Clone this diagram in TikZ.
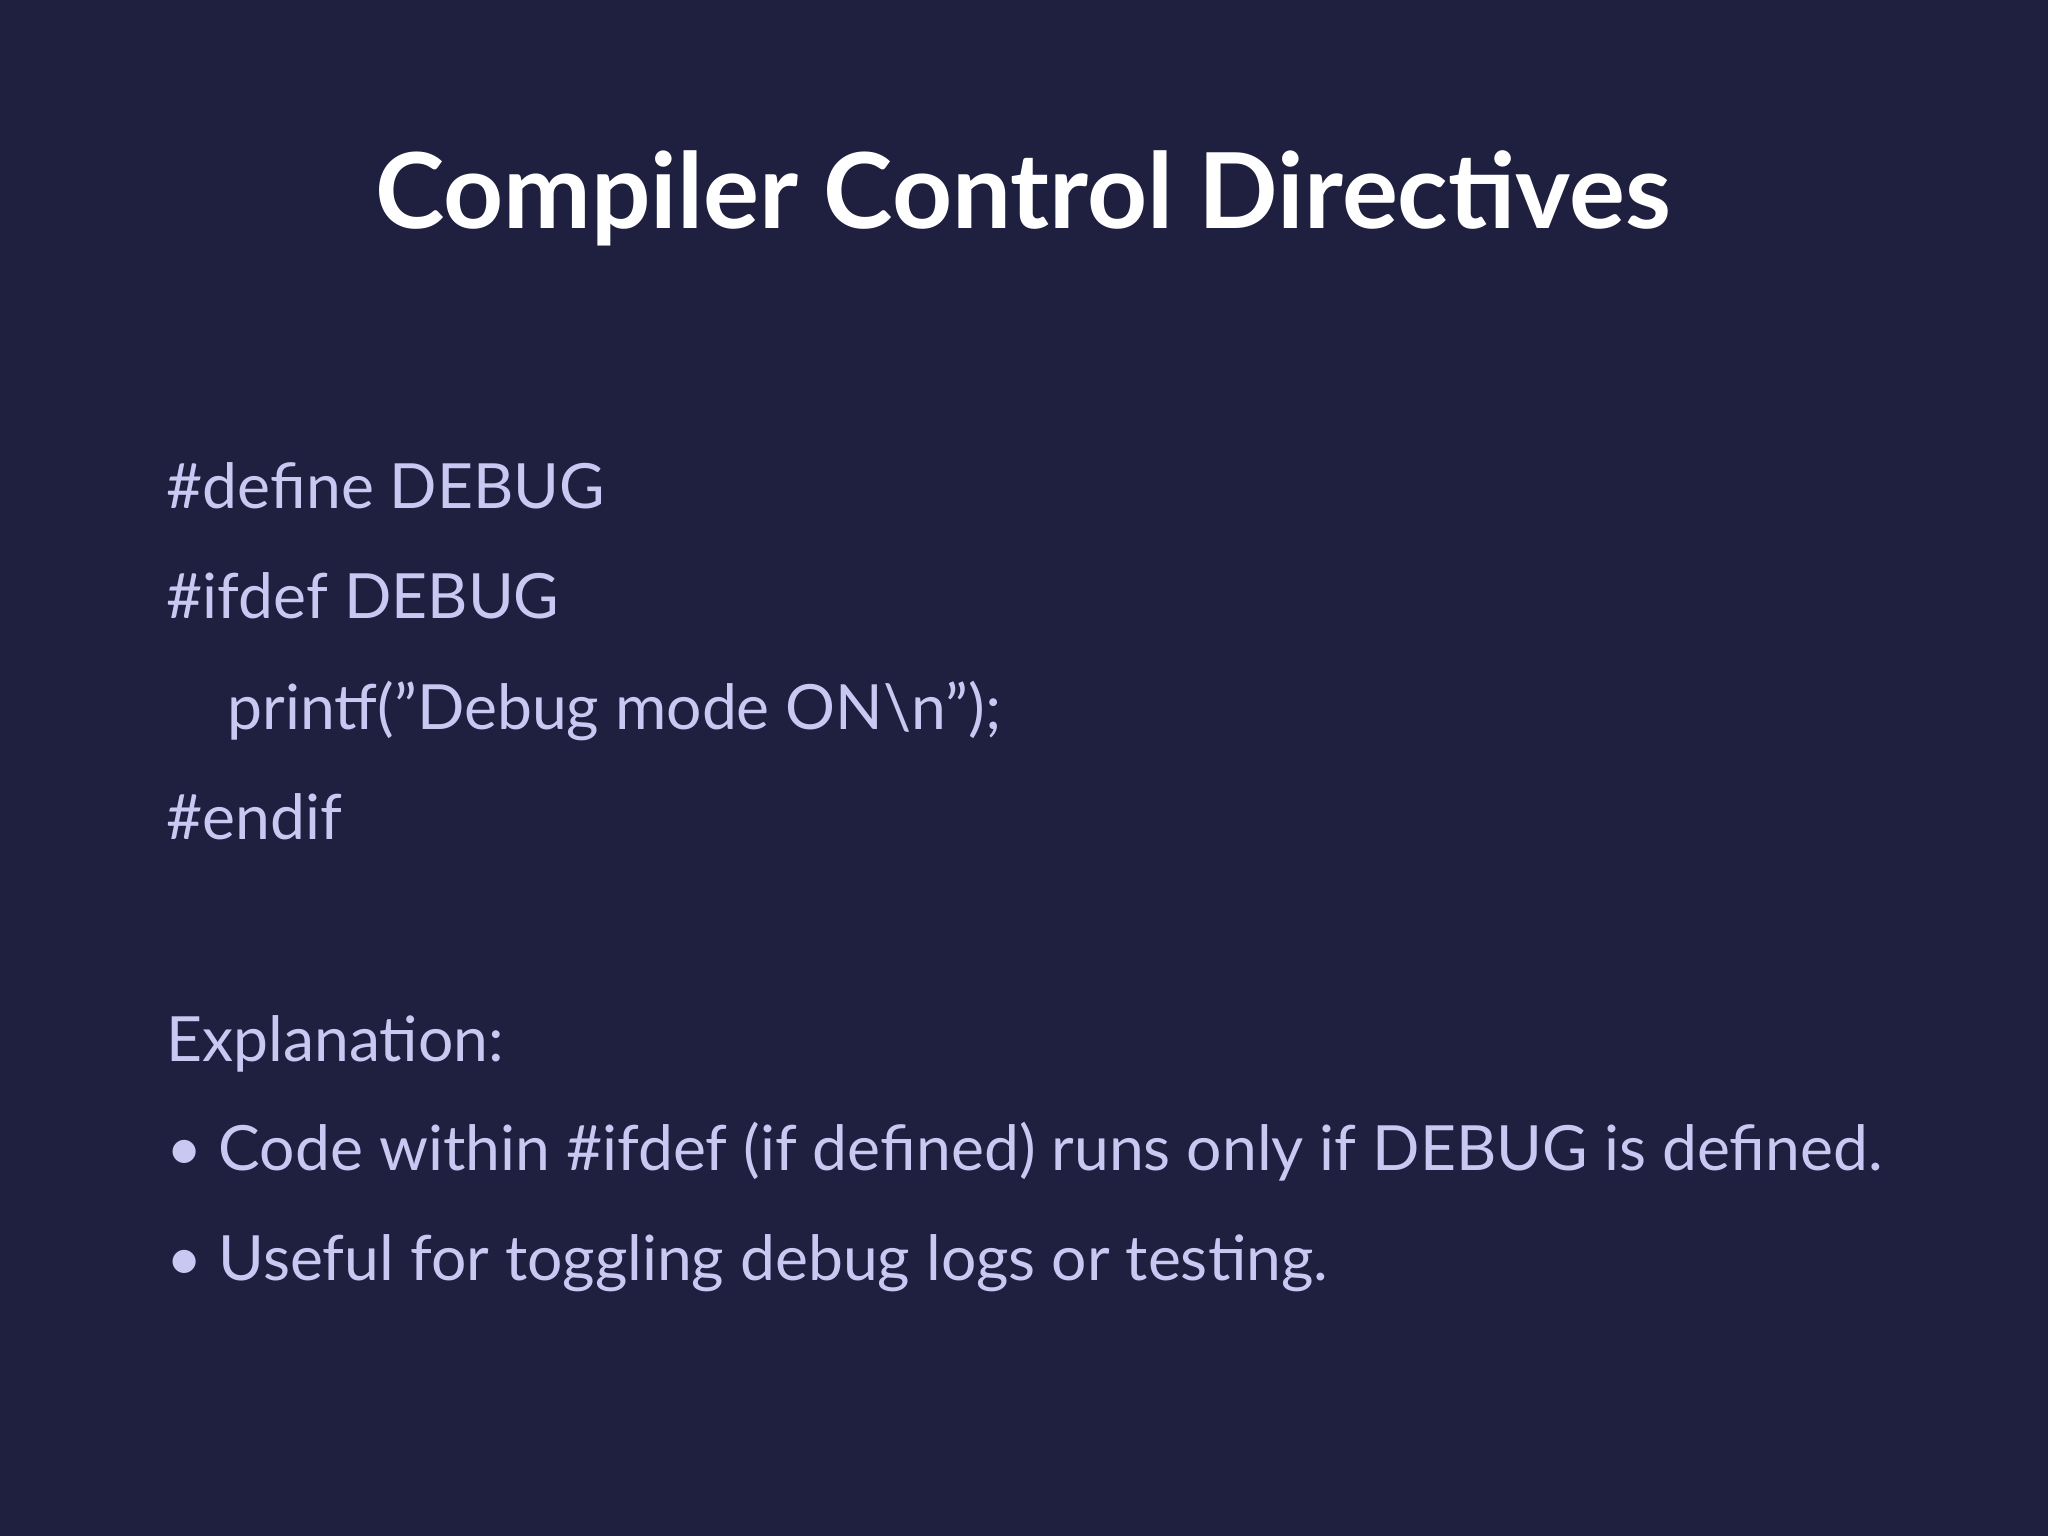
\documentclass[tikz,border=0pt]{standalone}
\usepackage{fontspec}
\setmainfont{Lato}
\definecolor{bg}{HTML}{1F1F3F}
\definecolor{txt}{HTML}{C8C8F2}
\begin{document}
\begin{tikzpicture}[x=1cm,y=1cm,
  body/.style={anchor=base west,inner sep=0pt,text=txt,font=\fontsize{17.75pt}{21pt}\selectfont}]
\fill[bg] (0,0) rectangle (20.48,15.36);
\useasboundingbox (0,0) rectangle (20.48,15.36);
\node[anchor=base,inner sep=0pt,text=white,font=\fontsize{29.8pt}{36pt}\selectfont\bfseries] (title) at (10.23,13.07) {Compiler Control Directives};
\node[body] (l1) at (1.66,10.27) {\#define DEBUG};
\node[body] (l2) at (1.66,9.17) {\#ifdef DEBUG};
\node[body] (l3) at (2.27,8.06) {printf(\symbol{34}Debug mode ON\textbackslash n\symbol{34});};
\node[body] (l4) at (1.66,6.96) {\#endif};
\node[body] (ex) at (1.66,4.74) {Explanation:};
\node[body] (b1) at (1.66,3.65) {• Code within \#ifdef (if defined) runs only if DEBUG is defined.};
\node[body] (b2) at (1.66,2.55) {• Useful for toggling debug logs or testing.};
\end{tikzpicture}
\end{document}
